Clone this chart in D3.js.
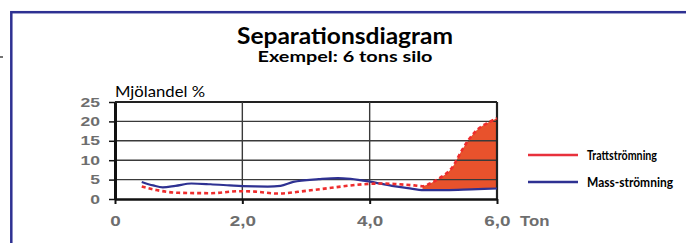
<!DOCTYPE html>
<html>
<head>
<meta charset="utf-8">
<script src="https://cdn.jsdelivr.net/npm/d3@7"></script>
<style>
  html, body { margin: 0; padding: 0; background: #fff; }
  svg { display: block; }
</style>
</head>
<body>
<svg id="chart" width="686" height="243"></svg>
<script>
// MARK: Data (x in ton, y in %).

const yTicks = [0, 5, 10, 15, 20, 25]
const xTicks = [0, 2, 4, 6]

const massX = [0.42, 0.6, 0.75, 0.95, 1.2, 1.5, 1.8, 2.0, 2.4, 2.6, 2.8, 3.2, 3.5, 3.7, 4.0, 4.35, 4.6, 4.85, 5.2, 5.6, 6.0]
const massY = [4.4, 3.5, 3.0, 3.4, 4.0, 3.8, 3.5, 3.3, 3.2, 3.4, 4.4, 5.1, 5.4, 5.2, 4.5, 3.4, 2.8, 2.3, 2.3, 2.5, 2.7]

const trattX = [0.42, 0.65, 1.0, 1.5, 1.95, 2.2, 2.55, 3.0, 3.4, 3.65, 3.9, 4.2, 4.45, 4.7, 4.83, 4.95, 5.1, 5.3, 5.45, 5.57, 5.68, 5.84, 6.0]
const trattY = [3.2, 2.3, 1.6, 1.5, 2.0, 1.9, 1.4, 2.1, 2.9, 3.4, 3.8, 4.0, 3.8, 3.5, 3.3, 4.0, 5.4, 8.2, 12.6, 15.6, 17.7, 19.5, 20.8]

const FILL_FROM = 4.83

const legendLabels = ['Trattströmning', 'Mass-strömning']

// MARK: Styles.

const FRAME_BLUE = '#2e3192'
const RED_LINE   = '#ee2d2d'
const RED_FILL   = '#e8522c'
const LABEL_GREY = '#6e6e6e'
const STRETCH    = 1.35

const svg = d3.select('#chart')

const x = d3.scaleLinear().domain([0, 6]).range([115, 497])
const y = d3.scaleLinear().domain([0, 25]).range([199, 102])

const mass  = massX.map((v, i) => ({ x: v, y: massY[i] }))
const tratt = trattX.map((v, i) => ({ x: v, y: trattY[i] }))

// Frame round the whole figure
svg.append('rect')
  .attr('x', 11.3).attr('y', 12.2)
  .attr('width', 720).attr('height', 300)
  .attr('fill', 'none')
  .attr('stroke', FRAME_BLUE)
  .attr('stroke-width', 2.5)

svg.append('line')
  .attr('x1', 0).attr('x2', 3).attr('y1', 57).attr('y2', 57)
  .attr('stroke', '#444').attr('stroke-width', 1.5)

// Titles
svg.append('text')
  .attr('x', 345).attr('y', 44)
  .attr('text-anchor', 'middle')
  .attr('font-family', 'Lato, sans-serif')
  .attr('font-weight', 'bold')
  .attr('font-size', 23)
  .attr('textLength', 216).attr('lengthAdjust', 'spacingAndGlyphs')
  .text('Separationsdiagram')

svg.append('text')
  .attr('x', 345).attr('y', 62)
  .attr('text-anchor', 'middle')
  .attr('font-family', 'Lato, sans-serif')
  .attr('font-weight', 'bold')
  .attr('font-size', 14.5)
  .attr('textLength', 175).attr('lengthAdjust', 'spacingAndGlyphs')
  .text('Exempel: 6 tons silo')

svg.append('text')
  .attr('x', 115).attr('y', 97)
  .attr('font-family', 'Lato, sans-serif')
  .attr('font-size', 15)
  .attr('textLength', 90).attr('lengthAdjust', 'spacingAndGlyphs')
  .text('Mjölandel %')

// Fill between the two curves, clipped to the region above the mass curve
const massAbove = d3.area()
  .curve(d3.curveMonotoneX)
  .x((d) => x(d.x))
  .y0(y(25))
  .y1((d) => y(d.y))

svg.append('clipPath').attr('id', 'above-mass')
  .append('path')
  .attr('d', massAbove(mass))

const trattArea = d3.area()
  .curve(d3.curveMonotoneX)
  .x((d) => x(d.x))
  .y0(y(0))
  .y1((d) => y(d.y))

svg.append('path')
  .attr('d', trattArea(tratt.filter((d) => d.x >= FILL_FROM)))
  .attr('fill', RED_FILL)
  .attr('clip-path', 'url(#above-mass)')

// Grid
const grid = svg.append('g').attr('class', 'grid')
grid.selectAll('line.h')
  .data(yTicks.filter((t) => t > 0))
  .enter().append('line')
    .attr('class', 'h')
    .attr('x1', x(0)).attr('x2', x(6))
    .attr('y1', (d) => y(d)).attr('y2', (d) => y(d))
    .attr('stroke', (d) => d === 25 ? '#222' : '#3a3a3a')
    .attr('stroke-width', (d) => d === 25 ? 2.2 : 1.4)
grid.selectAll('line.v')
  .data(xTicks.filter((t) => t > 0))
  .enter().append('line')
    .attr('class', 'v')
    .attr('x1', (d) => x(d)).attr('x2', (d) => x(d))
    .attr('y1', y(25)).attr('y2', y(0))
    .attr('stroke', (d) => d === 6 ? '#222' : '#3a3a3a')
    .attr('stroke-width', (d) => d === 6 ? 2.2 : 1.4)

// Curves
const curve = d3.line()
  .curve(d3.curveMonotoneX)
  .x((d) => x(d.x))
  .y((d) => y(d.y))

svg.append('path')
  .attr('d', curve(mass))
  .attr('fill', 'none')
  .attr('stroke', FRAME_BLUE)
  .attr('stroke-width', 2.2)

svg.append('path')
  .attr('d', curve(tratt))
  .attr('fill', 'none')
  .attr('stroke', RED_LINE)
  .attr('stroke-width', 2.6)
  .attr('stroke-dasharray', '4,3')

// Axes
const yAxis = svg.append('g')
  .attr('transform', `translate(${x(0)},0)`)
  .call(d3.axisLeft(y).tickValues(yTicks).tickSize(6).tickSizeOuter(0))
yAxis.select('.domain').attr('stroke', '#111').attr('stroke-width', 3)
yAxis.selectAll('.tick line').attr('stroke', '#111').attr('stroke-width', 1.5)
yAxis.selectAll('.tick text')
  .attr('x', -15 / STRETCH)
  .attr('transform', `scale(${STRETCH},1)`)
  .attr('font-family', '"Liberation Sans", Arial, sans-serif')
  .attr('font-weight', 'bold')
  .attr('font-size', 13)
  .attr('fill', LABEL_GREY)

const xAxis = svg.append('g')
  .attr('transform', `translate(0,${y(0)})`)
  .call(d3.axisBottom(x).tickValues(xTicks).tickSize(5).tickSizeOuter(0)
    .tickFormat((d) => d === 0 ? '0' : d.toFixed(1).replace('.', ',')))
xAxis.select('.domain').attr('stroke', '#111').attr('stroke-width', 2.6)
xAxis.selectAll('.tick line').attr('stroke', '#111').attr('stroke-width', 2)
xAxis.selectAll('.tick text')
  .attr('y', 27).attr('dy', 0)
  .attr('transform', `scale(${STRETCH},1)`)
  .attr('font-family', '"Liberation Sans", Arial, sans-serif')
  .attr('font-weight', 'bold')
  .attr('font-size', 14)
  .attr('fill', LABEL_GREY)

svg.append('text')
  .attr('x', 520 / 1.2).attr('y', 226)
  .attr('transform', 'scale(1.2,1)')
  .attr('font-family', '"Liberation Sans", Arial, sans-serif')
  .attr('font-weight', 'bold')
  .attr('font-size', 14)
  .attr('fill', LABEL_GREY)
  .text('Ton')

// Legend
const legend = svg.append('g').selectAll('g')
  .data(legendLabels)
  .enter().append('g')
    .attr('transform', (d, i) => `translate(528,${155 + i * 27})`)
legend.append('line')
  .attr('x1', 0).attr('x2', 50)
  .attr('stroke', (d, i) => i === 0 ? '#e8313c' : FRAME_BLUE)
  .attr('stroke-width', 2.5)
legend.append('text')
  .attr('x', 59).attr('y', 5)
  .attr('font-family', 'Lato, sans-serif')
  .attr('font-weight', 'bold')
  .attr('font-size', 13.5)
  .attr('textLength', (d, i) => i === 0 ? 70 : 86)
  .attr('lengthAdjust', 'spacingAndGlyphs')
  .text((d) => d)
</script>
</body>
</html>
